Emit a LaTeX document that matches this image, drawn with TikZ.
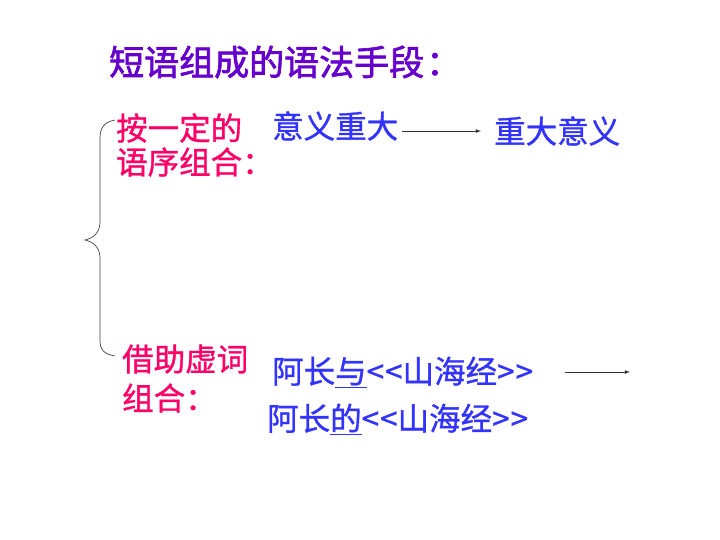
\documentclass[tikz,border=0pt]{standalone}
\usepackage{fontspec}
\usetikzlibrary{calc}
\newfontfamily\cjk[FakeBold=1]{Noto Sans CJK SC}
\newfontfamily\cjkt[FakeBold=2]{Noto Sans CJK SC}
\definecolor{titlec}{RGB}{102,0,204}
\definecolor{redc}{RGB}{255,0,102}
\definecolor{bluec}{RGB}{51,51,255}
\begin{document}
\begin{tikzpicture}[x=1pt,y=-1pt,
  txt/.style={anchor=west,inner sep=0pt,font=\cjk\fontsize{31.5}{36}\selectfont},
  ttl/.style={txt,text=titlec,font=\cjkt\fontsize{35}{40}\selectfont},
  red/.style={txt,text=redc},
  blu/.style={txt,text=bluec},
  arr/.style={draw=black!80,line width=0.8pt,-latex}]
\useasboundingbox (0,0) rectangle (720,540);
\node[ttl] (title) at (109,62) {短语组成的语法手段\kern2pt：};
\node[red] (r1) at (116,128) {按一定的};
\node[red] (r2) at (116,162) {语序组合：};
\node[blu] (a1) at (272,126) {意义重大};
\node[blu] (a2) at (494,131) {重大意义};
\draw[arr] ($(a1.east)+(4,5)$) -- ($(a2.west)+(-13,0)$);
\node[red] (r3) at (122,359) {借助虚词};
\node[red] (r4) at (122,398) {组合：};
\node[blu] (b1) at (272,372) {阿长\underline{与}<\kern1pt<山海经>\kern1pt>};
\node[blu] (b2) at (267,419) {阿长\underline{的}<\kern1pt<山海经>\kern1pt>};
\coordinate (e1) at (565,372);
\coordinate (e2) at (630,372);
\draw[arr] (e1) -- (e2);
\draw[black!75,line width=0.7pt] (115,120) .. controls (104,122) and (100,128) .. (100,138)
  -- (100,222) .. controls (100,232) and (94,238) .. (85,240)
  .. controls (94,242) and (100,248) .. (100,258)
  -- (100,340) .. controls (100,350) and (104,354) .. (115,356);
\end{tikzpicture}
\end{document}
